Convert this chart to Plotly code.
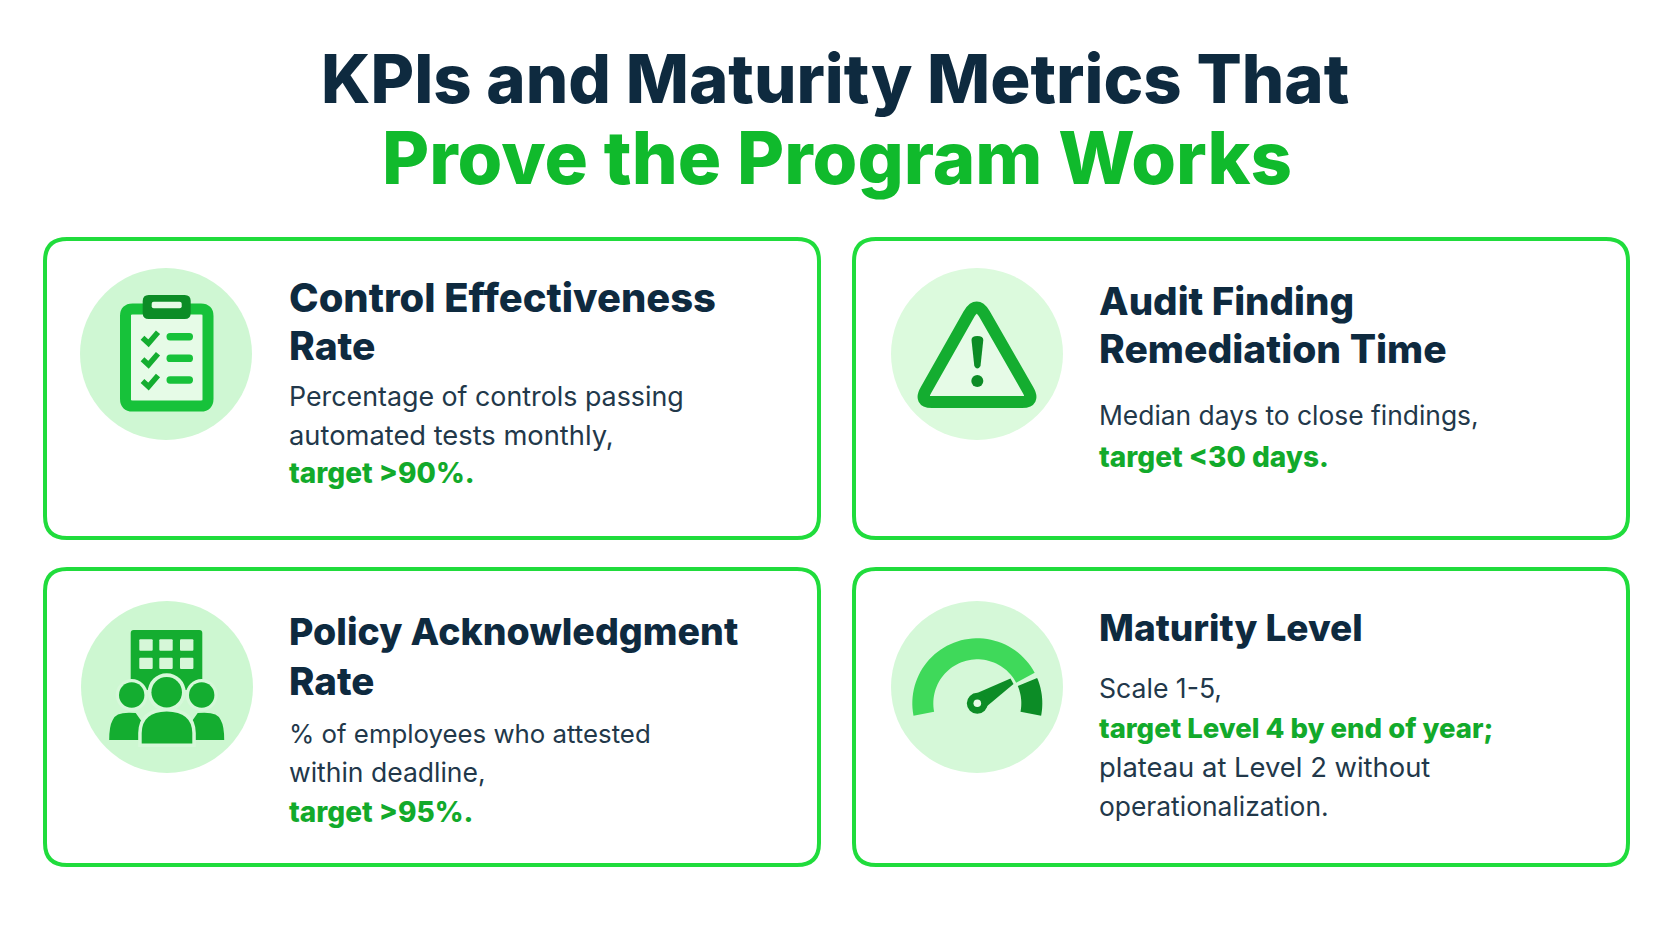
import numpy as np
import plotly.graph_objects as go

W, H = 1672, 941

NAVY = "#0e2a3f"
GREEN_TITLE = "#10ba2c"
GREEN_TARGET = "#12aa2b"
BODY_TEXT = "#22384a"
BORDER = "#20dc3c"
MID = "#14ad30"
BRIGHT = "#17c23a"
DARK = "#0c8c26"
PALE = "#e6fbe7"
HALO = "#d6f8d9"

TITLE_LINES = ["KPIs and Maturity Metrics That", "Prove the Program Works"]

CARD_HEADINGS = [
    ["Control Effectiveness", "Rate"],
    ["Audit Finding", "Remediation Time"],
    ["Policy Acknowledgment", "Rate"],
    ["Maturity Level"],
]
CARD_BODIES = [
    ["Percentage of controls passing", "automated tests monthly,", "target >90%."],
    ["Median days to close findings,", "target <30 days."],
    ["% of employees who attested", "within deadline,", "target >95%."],
    ["Scale 1-5,", "target Level 4 by end of year;", "plateau at Level 2 without", "operationalization."],
]
# which body line is the green target line
TARGET_LINE = [2, 1, 2, 1]

# layout, in page pixels
CARD_X = [(45, 819), (854, 1628), (45, 819), (854, 1628)]
CARD_Y = [(239, 538), (239, 538), (569, 865), (569, 865)]
CIRCLE_C = [(166, 354), (977, 354), (167, 687), (977, 687)]
CIRCLE_FILL = ["#cff7d3", "#dcfadd", "#cdf7d1", "#d5f8d8"]
TEXT_X = [287, 1097, 287, 1097]
HEAD_BASE = [[312, 360], [315, 363], [645, 695], [641]]
BODY_BASE = [[406, 445, 483], [424, 467], [743, 782, 822], [698, 738, 777, 815]]
# font sizes per line, set so the line widths match
TITLE_SIZES = [67, 72.4]
HEAD_SIZES = [[39.9, 39], [38.5, 39], [37.5, 38.5], [37]]
BODY_SIZES = [[26.8, 27.3, 28], [26.4, 28], [25.8, 26.5, 28], [26.6, 27.5, 27.4, 26.4]]


def rrect(x0, y0, x1, y1, r):
    return (f"M{x0+r},{y0} L{x1-r},{y0} Q{x1},{y0} {x1},{y0+r} L{x1},{y1-r} Q{x1},{y1} {x1-r},{y1} "
            f"L{x0+r},{y1} Q{x0},{y1} {x0},{y1-r} L{x0},{y0+r} Q{x0},{y0} {x0+r},{y0} Z")


def poly(pts, close=True):
    s = "M" + " L".join(f"{x:.2f},{y:.2f}" for x, y in pts)
    return s + (" Z" if close else "")


def ring_seg(cx, cy, r0, r1, a0, a1):
    # angles in degrees, counted up from +x
    t = np.radians(np.linspace(a0, a1, 50))
    outer = [(cx + r1*np.cos(a), cy - r1*np.sin(a)) for a in t]
    inner = [(cx + r0*np.cos(a), cy - r0*np.sin(a)) for a in t[::-1]]
    return poly(outer + inner)


def circle(cx, cy, r, fill):
    return dict(type="circle", x0=cx-r, x1=cx+r, y0=cy-r, y1=cy+r, fillcolor=fill,
                line=dict(color=fill, width=0))


def path(d, fill=None, line=None, lw=0):
    return dict(type="path", path=d, fillcolor=fill or "rgba(0,0,0,0)",
                line=dict(color=line or "rgba(0,0,0,0)", width=lw))


shapes = []

# cards + icon discs
for (x0, x1), (y0, y1) in zip(CARD_X, CARD_Y):
    shapes.append(path(rrect(x0, y0, x1, y1, 22), fill="#ffffff", line=BORDER, lw=4))
for (cx, cy), col in zip(CIRCLE_C, CIRCLE_FILL):
    shapes.append(circle(cx, cy, 86, col))

# clipboard
shapes.append(path(rrect(125.5, 309, 208, 406, 7), fill=PALE, line=BRIGHT, lw=11))
shapes.append(path(rrect(142.7, 295, 190.7, 319, 6), fill=DARK))
shapes.append(path(rrect(151.7, 301.7, 181.7, 308.3, 2), fill=PALE))
for yy in [336.7, 358.3, 380]:
    shapes.append(path(poly([(142.5, yy+1), (148.5, yy+6.5), (158, yy-4.5)], close=False), line=MID, lw=5.5))
    shapes.append(path(rrect(166.5, yy-3.7, 193, yy+3.7, 3.6), fill=BRIGHT))

# warning triangle
tri = ("M969,314 Q976.7,301 984.5,314 L1028,390 Q1035,402 1022,402 L932,402 "
       "Q919,402 926,390 Z")
shapes.append(path(tri, fill=PALE, line=MID, lw=12))
shapes.append(path("M971.5,340 Q971.5,336 977.3,336 Q983.3,336 983.3,340 L980.5,366 Q977.3,371 974.3,366 Z", fill=DARK))
shapes.append(circle(977.3, 381, 6, DARK))

# people + building
shapes.append(path(rrect(130.7, 630, 202.3, 690, 3), fill=MID))
for wx in [139.3, 159.3, 180]:
    for wy in [639.3, 657.7]:
        shapes.append(path(rrect(wx, wy, wx+13.4, wy+11.4, 1), fill="#d6f7d8"))
for hx, sgn in [(131.7, -1), (201.7, 1)]:
    shapes.append(circle(hx, 695, 16, HALO))
    shapes.append(circle(hx, 695, 12.7, MID))
    xin, xout = hx + sgn*16, hx + sgn*22.5
    shapes.append(path(f"M{hx-sgn*4},713 Q{xin},711 {xin+sgn*3},720 Q{xout},726 {xout},740 "
                       f"L{hx-sgn*21},740 L{hx-sgn*16},730 Z", fill=MID))
# halo first, then the centre figure on top of it
shapes.append(circle(166.7, 692.3, 19, HALO))
shapes.append(circle(166.7, 692.3, 15.3, MID))
body = "M141.7,743.5 L141.7,733 Q142,712 166.7,711.5 Q192,712 192.3,733 L192.3,743.5 Z"
shapes.append(path(body, fill=HALO, line=HALO, lw=7))
shapes.append(path(body, fill=MID))

# gauge
gx, gy = 977.3, 703.3
shapes.append(path(ring_seg(gx, gy, 44, 65, 28, 191), fill="#3fd95a"))
shapes.append(path(ring_seg(gx, gy, 44, 65, -11, 23), fill=DARK))
shapes.append(path(poly([(gx-3, gy-9), (1010.5, 678.6), (1013.5, 684), (gx+6, gy+6)]), fill=DARK))
shapes.append(circle(gx, gy, 10.5, DARK))
shapes.append(circle(gx, gy, 3.8, PALE))

annotations = []


def add_text(x, base, txt, size, color, weight, anchor="left"):
    # y given as baseline, annotation is centered on the line box
    annotations.append(dict(x=x, y=base - size*0.36, text=txt, showarrow=False, xref="x", yref="y",
                            xanchor=anchor, yanchor="middle", align=anchor,
                            font=dict(family="Inter", size=size, color=color, weight=weight)))


add_text(835, 103, TITLE_LINES[0], TITLE_SIZES[0], NAVY, 800, "center")
add_text(837, 184, TITLE_LINES[1], TITLE_SIZES[1], GREEN_TITLE, 800, "center")

for i in range(4):
    for line, base, size in zip(CARD_HEADINGS[i], HEAD_BASE[i], HEAD_SIZES[i]):
        add_text(TEXT_X[i], base, line, size, NAVY, 800)
    for j, (line, base, size) in enumerate(zip(CARD_BODIES[i], BODY_BASE[i], BODY_SIZES[i])):
        if j == TARGET_LINE[i]:
            add_text(TEXT_X[i], base, line, size, GREEN_TARGET, 800)
        else:
            add_text(TEXT_X[i], base, line, size, BODY_TEXT, 400)

fig = go.Figure()
fig.update_layout(
    width=W, height=H, margin=dict(l=0, r=0, t=0, b=0),
    paper_bgcolor="#ffffff", plot_bgcolor="#ffffff",
    xaxis=dict(range=[0, W], visible=False, fixedrange=True),
    yaxis=dict(range=[H, 0], visible=False, fixedrange=True),
    shapes=shapes, annotations=annotations, showlegend=False,
)
fig.write_html("out.html", config=dict(displayModeBar=False),
               post_script="document.body.style.margin='0';document.body.style.overflow='hidden';")
